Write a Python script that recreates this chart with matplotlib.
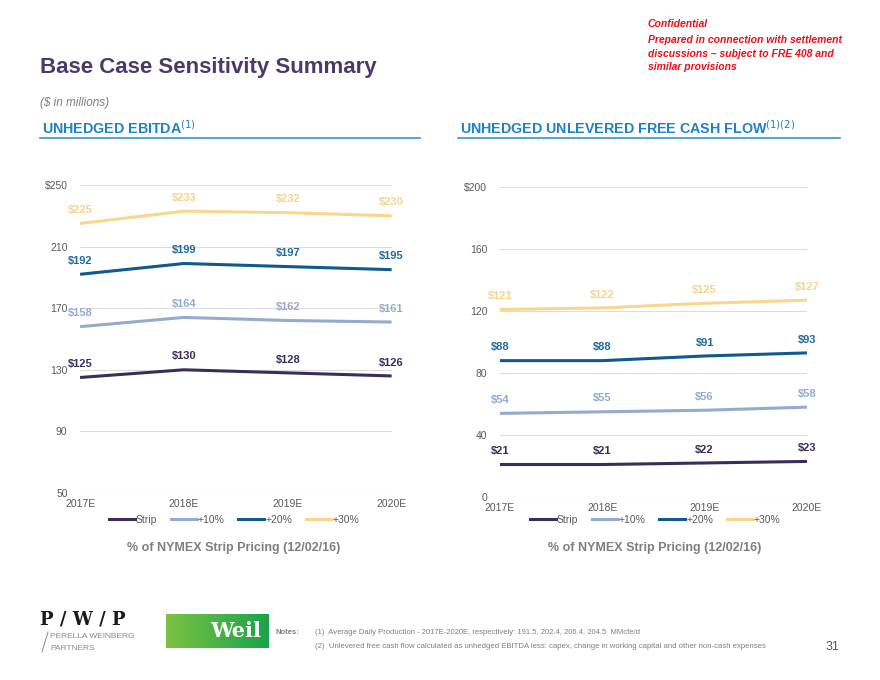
import numpy as np
import matplotlib
matplotlib.use("Agg")
import matplotlib.pyplot as plt
from matplotlib.lines import Line2D
from matplotlib.colors import LinearSegmentedColormap

plt.rcParams["font.family"] = ["Liberation Sans", "DejaVu Sans"]

YEARS = ["2017E", "2018E", "2019E", "2020E"]
SERIES = ["Strip", "+10%", "+20%", "+30%"]

EBITDA_STRIP = [125, 130, 128, 126]
EBITDA_P10 = [158, 164, 162, 161]
EBITDA_P20 = [192, 199, 197, 195]
EBITDA_P30 = [225, 233, 232, 230]

UFCF_STRIP = [21, 21, 22, 23]
UFCF_P10 = [54, 55, 56, 58]
UFCF_P20 = [88, 88, 91, 93]
UFCF_P30 = [121, 122, 125, 127]

EBITDA_TICKS = [50, 90, 130, 170, 210, 250]
UFCF_TICKS = [0, 40, 80, 120, 160, 200]

LINE_COLORS = ["#3a2d5c", "#93abcf", "#0e5a8e", "#fad58c"]
LABEL_COLORS = ["#3a2d5c", "#93abcf", "#1f6a9e", "#f8d390"]

GRID = "#dcdcdc"
TICK = "#595959"
BLUE = "#1e83c4"
TITLE = "#4a3a6a"
W, H = 880, 680


def fx(px):
    return px / W


def fy(py):
    return 1 - py / H


def draw_panel(ax, series_values, ticks, legend_x, legend_y, sub_y):
    x = np.arange(len(YEARS))
    for vals, lc, tc in zip(series_values, LINE_COLORS, LABEL_COLORS):
        ax.plot(x, vals, color=lc, lw=2.2, solid_capstyle="butt", zorder=3)
        for xi, v in zip(x, vals):
            ax.annotate(f"${v}", (xi, v), xytext=(0, 6), textcoords="offset points",
                        ha="center", va="bottom", fontsize=8, fontweight="bold", color=tc)
    ax.set_xlim(0, 3)
    ax.set_ylim(ticks[0], ticks[-1])
    ax.set_yticks(ticks)
    ax.set_yticklabels([f"${t}" if t == ticks[-1] else str(t) for t in ticks])
    ax.set_xticks(x)
    ax.set_xticklabels(YEARS)
    ax.tick_params(length=0, labelsize=7.5, colors=TICK, pad=9)
    ax.tick_params(axis="x", pad=4)
    ax.grid(axis="y", color=GRID, lw=0.8)
    ax.set_axisbelow(True)
    for s in ax.spines.values():
        s.set_visible(False)
    handles = [Line2D([], [], color=c, lw=2.2) for c in LINE_COLORS]
    fig.legend(handles, SERIES, loc="center", bbox_to_anchor=(fx(legend_x), fy(legend_y)), ncol=4,
               frameon=False, fontsize=7.5, handlelength=2.5, handletextpad=0.1,
               columnspacing=1.3, labelcolor=TICK)
    fig.text(fx(legend_x), fy(sub_y), "% of NYMEX Strip Pricing (12/02/16)",
             ha="center", va="center", fontsize=9, fontweight="bold", color="#7f7f7f")


fig = plt.figure(figsize=(8.8, 6.8), dpi=100)

ax1 = fig.add_axes([0.091, 0.275, 0.354, 0.453])
draw_panel(ax1, [EBITDA_STRIP, EBITDA_P10, EBITDA_P20, EBITDA_P30], EBITDA_TICKS, 234, 520, 548)

ax2 = fig.add_axes([0.568, 0.269, 0.349, 0.456])
draw_panel(ax2, [UFCF_STRIP, UFCF_P10, UFCF_P20, UFCF_P30], UFCF_TICKS, 655, 520, 548)

# header texts
fig.text(fx(40), fy(68), "Base Case Sensitivity Summary", fontsize=16,
         fontweight="bold", color=TITLE, va="center")
fig.text(fx(40), fy(103), "($ in millions)", fontsize=8.5, style="italic",
         color="#7f7f7f", va="center")
fig.text(fx(42), fy(128), "UNHEDGED EBITDA$^{(1)}$", fontsize=10.3,
         fontweight="bold", color=BLUE, va="center")
fig.text(fx(460), fy(128), "UNHEDGED UNLEVERED FREE CASH FLOW$^{(1)(2)}$",
         fontsize=10.3, fontweight="bold", color=BLUE, va="center")
fig.add_artist(Line2D([fx(40), fx(420)], [fy(138)] * 2, color="#3a96d0", lw=1.2))
fig.add_artist(Line2D([fx(458), fx(840)], [fy(138)] * 2, color="#3a96d0", lw=1.2))

red_lines = ["Confidential", "Prepared in connection with settlement",
             "discussions \u2013 subject to FRE 408 and", "similar provisions"]
red_y = [24, 40, 54, 67]
for line, yy in zip(red_lines, red_y):
    fig.text(fx(648), fy(yy), line, fontsize=7.5,
             fontweight="bold", style="italic", color="#e8101a", va="center")

# footer: logos and notes
fig.text(fx(40), fy(620), "P / W / P", family="DejaVu Serif", fontsize=13,
         fontweight="bold", color="#1a1a1a", va="center")
fig.text(fx(50), fy(637), "PERELLA WEINBERG", fontsize=6, color="#8a8a8a", va="center")
fig.text(fx(50), fy(648), "PARTNERS", fontsize=6, color="#8a8a8a", va="center")
fig.add_artist(Line2D([fx(42), fx(48)], [fy(652), fy(632)], color="#8a8a8a", lw=0.7))

weil_ax = fig.add_axes([fx(166), fy(648), 102 / W, 34 / H])
grad = np.linspace(0, 1, 256).reshape(1, -1)
cmap = LinearSegmentedColormap.from_list("weil", ["#7cc242", "#1aa34a"])
weil_ax.imshow(grad, aspect="auto", cmap=cmap, extent=(0, 1, 0, 1))
weil_ax.text(0.68, 0.5, "Weil", transform=weil_ax.transAxes, family="DejaVu Serif",
             fontsize=15, fontweight="bold", color="white", ha="center", va="center")
weil_ax.axis("off")

fig.text(fx(275), fy(633), "Notes:", fontsize=5.5, fontweight="bold", color="#7f7f7f", va="center")
fig.text(fx(315), fy(633),
         "(1)  Average Daily Production - 2017E-2020E, respectively: 191.5, 202.4, 206.4, 204.5  MMcfe/d",
         fontsize=5.5, color="#7f7f7f", va="center")
fig.text(fx(315), fy(646),
         "(2)  Unlevered free cash flow calculated as unhedged EBITDA less: capex, change in working capital and other non-cash expenses",
         fontsize=5.6, color="#7f7f7f", va="center")
fig.text(fx(832), fy(647), "31", fontsize=9, color="#595959", va="center", ha="center")

fig.savefig("out.png", dpi=100)
